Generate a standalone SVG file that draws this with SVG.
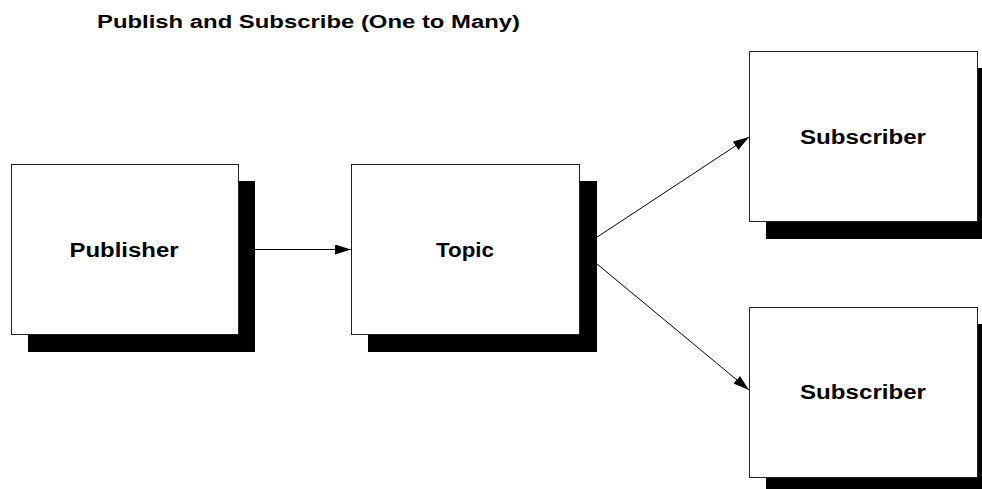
<svg xmlns="http://www.w3.org/2000/svg" width="982" height="489" viewBox="0 0 982 489">
<defs>
<style>
.shadow{fill:#000;}
.box{fill:#fff;stroke:#222;stroke-width:1;}
.lbl{font-family:"Liberation Sans",Arial,sans-serif;font-weight:bold;font-size:20px;fill:#000;text-anchor:middle;}
.title{font-family:"Liberation Sans",Arial,sans-serif;font-weight:bold;font-size:18px;fill:#000;}
.conn{stroke:#000;stroke-width:1;fill:none;}
</style>
<marker id="arr" markerWidth="16" markerHeight="10" refX="16" refY="5" orient="auto" markerUnits="userSpaceOnUse">
<path d="M0,0 L16,5 L0,10 Z" fill="#000"/>
</marker>
</defs>
<rect width="982" height="489" fill="#fff"/>
<text class="title" x="97" y="28" textLength="423" lengthAdjust="spacingAndGlyphs">Publish and Subscribe (One to Many)</text>
<g id="connectors">
<line class="conn" x1="238.5" y1="249.5" x2="351" y2="249.5" marker-end="url(#arr)"/>
<line class="conn" x1="579" y1="249" x2="749" y2="137" marker-end="url(#arr)"/>
<line class="conn" x1="579" y1="249" x2="749" y2="390" marker-end="url(#arr)"/>
</g>
<g id="publisher">
<rect class="shadow" x="28" y="181" width="227" height="171"/>
<rect class="box" x="11.5" y="164.5" width="227" height="170"/>
<text class="lbl" x="124" y="257" textLength="109" lengthAdjust="spacingAndGlyphs">Publisher</text>
</g>
<g id="topic">
<rect class="shadow" x="368" y="181" width="229" height="171"/>
<rect class="box" x="351.5" y="164.5" width="228" height="170"/>
<text class="lbl" x="465" y="257" textLength="58" lengthAdjust="spacingAndGlyphs">Topic</text>
</g>
<g id="subscriber1">
<rect class="shadow" x="766" y="68" width="228" height="171"/>
<rect class="box" x="749.5" y="51.5" width="228" height="170"/>
<text class="lbl" x="863" y="144" textLength="126" lengthAdjust="spacingAndGlyphs">Subscriber</text>
</g>
<g id="subscriber2">
<rect class="shadow" x="766" y="324" width="228" height="171"/>
<rect class="box" x="749.5" y="307.5" width="228" height="170"/>
<text class="lbl" x="863" y="399" textLength="126" lengthAdjust="spacingAndGlyphs">Subscriber</text>
</g>
</svg>
